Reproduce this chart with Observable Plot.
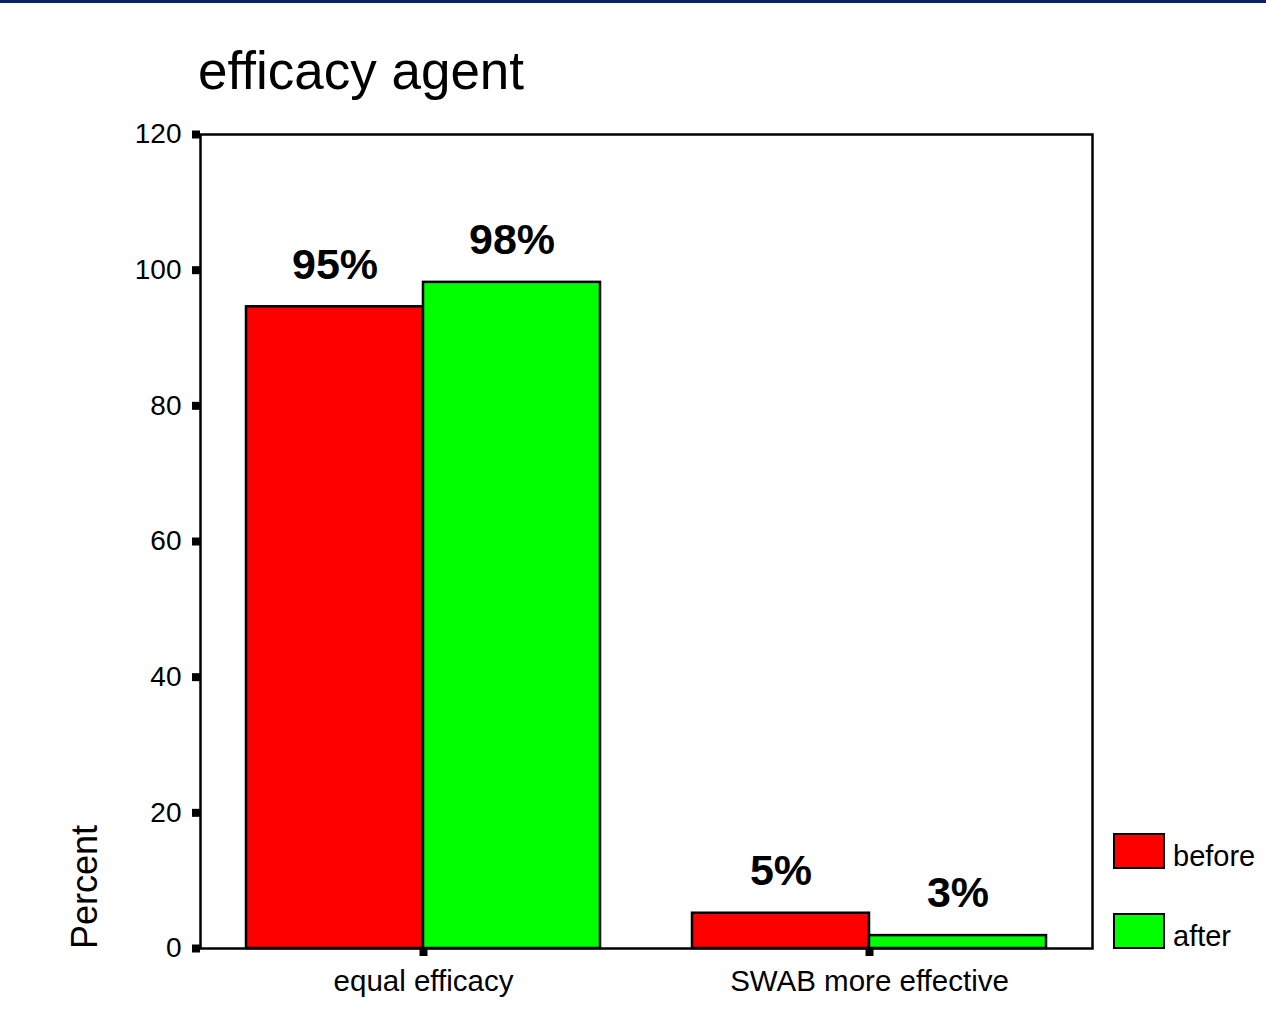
<!DOCTYPE html>
<html><head><meta charset="utf-8">
<script src="https://cdn.jsdelivr.net/npm/d3@7"></script>
<script src="https://cdn.jsdelivr.net/npm/@observablehq/plot@0.6"></script>
<style>
body{margin:0;background:#fff;font-family:Arial,"Liberation Sans",sans-serif;}
#wrap{position:relative;width:1266px;height:1015px;overflow:hidden;background:#fff;}
.topbar{position:absolute;left:0;top:0;width:1266px;height:3px;background:#0b2163;}
.title{position:absolute;left:198px;top:45px;font-size:53px;line-height:52px;color:#000;white-space:nowrap;}
#chart{position:absolute;left:0;top:100px;}
.ylabel{position:absolute;left:67px;top:949px;font-size:36px;line-height:36px;transform:rotate(-90deg);transform-origin:left top;white-space:nowrap;color:#000;}
.leg{position:absolute;left:1113px;display:flex;align-items:center;font-size:29px;color:#000;}
.leg span{position:relative;top:5px;}
.sw{box-sizing:border-box;width:52px;height:36px;border:2px solid #000;margin-right:8px;}
</style></head><body>
<div id="wrap">
  <div class="topbar"></div>
  <div class="title">efficacy agent</div>
  <div id="chart"></div>
  <div class="ylabel">Percent</div>
  <div class="leg" style="top:833px"><div class="sw" style="background:#ff0000"></div><span>before</span></div>
  <div class="leg" style="top:913px"><div class="sw" style="background:#00ff00"></div><span>after</span></div>
</div>
<script>
const categories = ["equal efficacy", "SWAB more effective"];
const groups = ["before", "after"];
const beforeValues = [94.6, 5.2];
const afterValues = [98.2, 1.9];
const beforeLabels = ["95%", "5%"];
const afterLabels = ["98%", "3%"];
const yTicks = [0, 20, 40, 60, 80, 100, 120];
const groupColors = ["#ff0000", "#00ff00"];

const rows = categories.flatMap((c, i) => [
  {category: c, group: groups[0], value: beforeValues[i], label: beforeLabels[i]},
  {category: c, group: groups[1], value: afterValues[i], label: afterLabels[i]}
]);

const chart = Plot.plot({
  width: 1266,
  height: 915,
  marginTop: 34,
  marginBottom: 67,
  marginLeft: 200,
  marginRight: 174,
  style: {fontFamily: "Arial, 'Liberation Sans', sans-serif", fontSize: "28px", color: "#000", background: "transparent", overflow: "visible"},
  fx: {domain: categories, padding: 0, label: null},
  x: {domain: groups, paddingInner: 0, paddingOuter: 0.253, axis: null},
  y: {domain: [0, 120], label: null},
  color: {domain: groups, range: groupColors},
  marks: [
    Plot.barY(rows, {fx: "category", x: "group", y: "value", fill: "group", stroke: "black", strokeWidth: 2.5}),
    Plot.text(rows, {fx: "category", x: "group", y: "value", text: "label", dy: -42, fontSize: 43, fontWeight: "bold", fill: "black"}),
    Plot.frame({facet: "super", stroke: "black", strokeWidth: 2.5}),
    Plot.axisY({ticks: yTicks, tickSize: 8, strokeWidth: 8, tickPadding: 11, label: null, fontSize: 28}),
    Plot.axisFx({anchor: "bottom", tickSize: 8, strokeWidth: 8, tickPadding: 14, label: null, fontSize: 29.5})
  ]
});
document.getElementById("chart").appendChild(chart);
</script>
</body></html>
